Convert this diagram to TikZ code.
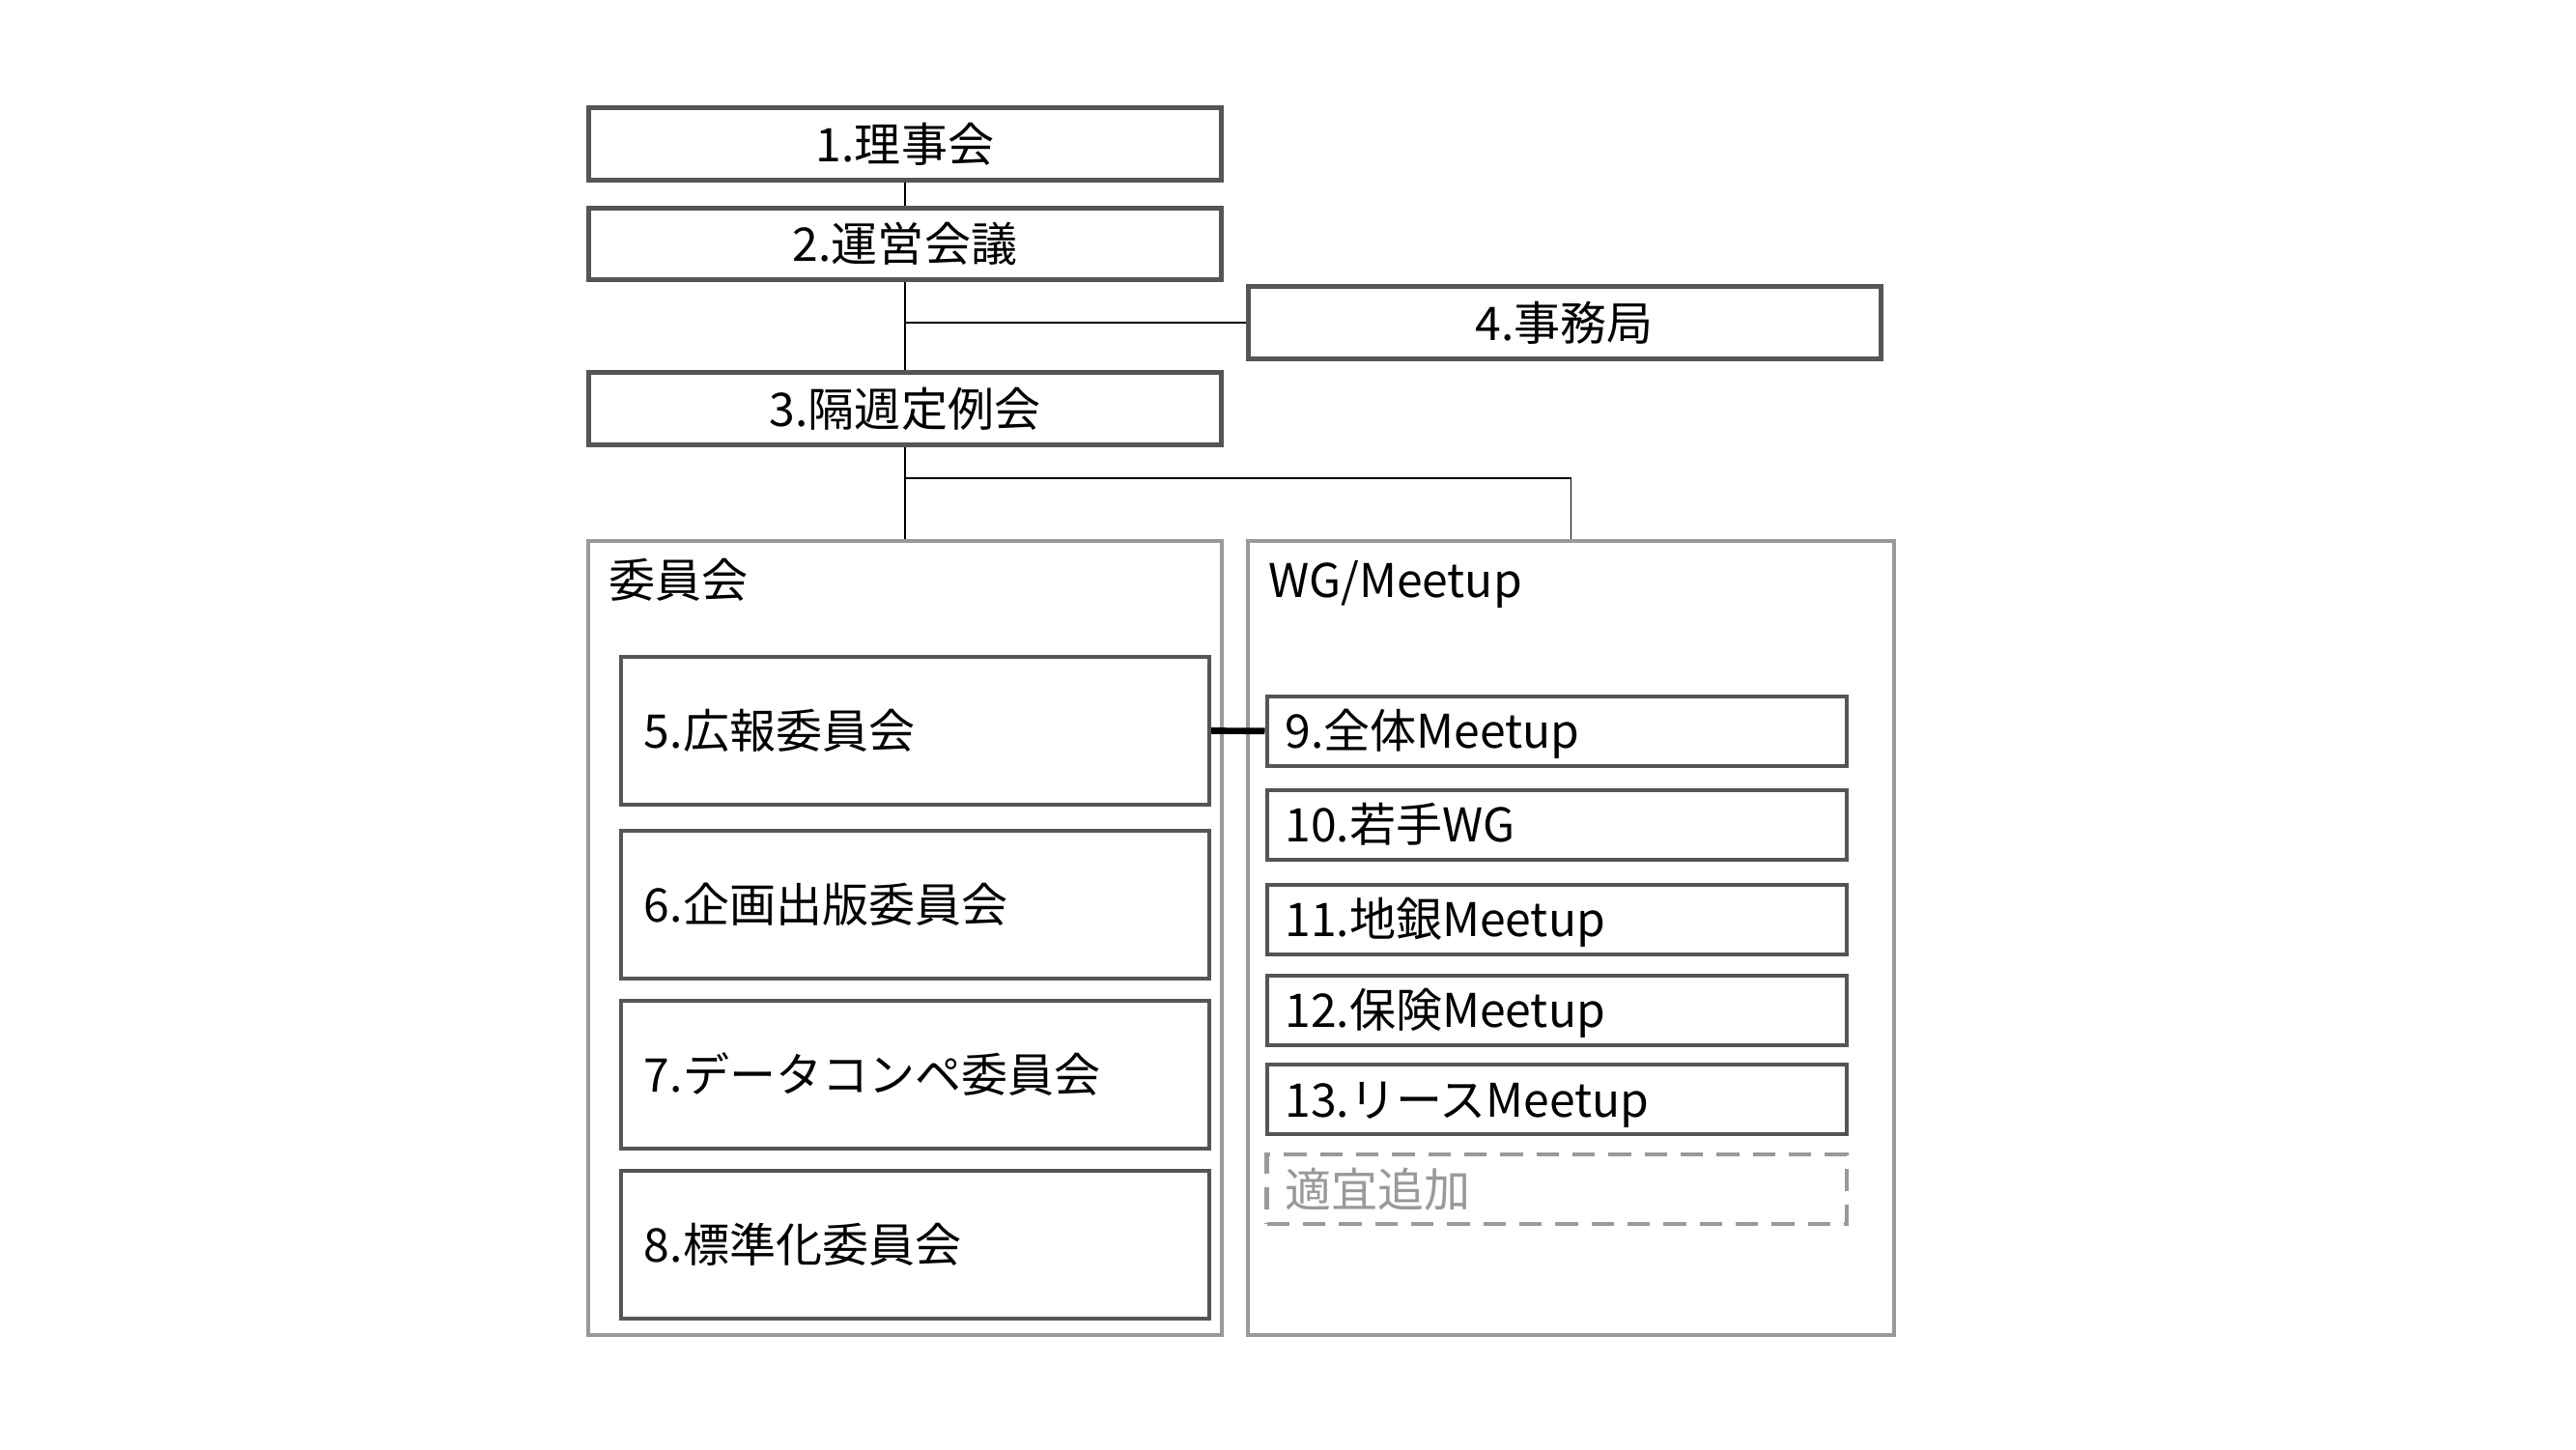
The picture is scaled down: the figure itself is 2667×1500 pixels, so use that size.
\documentclass[tikz,border=0pt]{standalone}
\usepackage{fontspec}
\setmainfont{Noto Sans CJK JP}
\definecolor{boxgray}{RGB}{85,85,85}
\definecolor{framegray}{RGB}{153,153,153}

\begin{document}
\begin{tikzpicture}[x=0.03cm, y=-0.03cm,
  font=\fontsize{41}{49}\selectfont,
  every node/.style={text height=36pt, text depth=5pt},
  topbox/.style={draw=boxgray, line width=0.15cm, minimum width=19.62cm, minimum height=2.24cm, inner sep=0pt},
  group/.style={draw=framegray, line width=0.12cm, minimum height=24.645cm, inner sep=0pt},
  cmtbox/.style={draw=boxgray, line width=0.12cm, minimum height=4.59cm, inner xsep=0.72cm, text width=16.83cm, align=left},
  wgbox/.style={draw=boxgray, line width=0.12cm, minimum height=2.16cm, inner xsep=0.57cm, text width=16.875cm, align=left},
  link/.style={line width=0.045cm}
]
\useasboundingbox (0,0) rectangle (2667,1500);
\node[topbox] (rijikai) at (937,149) {1.理事会};
\node[topbox] (unei) at (937,252.5) {2.運営会議};
\node[topbox] (teirei) at (937,423) {3.隔週定例会};
\node[topbox, minimum width=19.65cm] (jimukyoku) at (1619.5,334) {4.事務局};
\node[group, minimum width=19.68cm] (iinkai) at (937,970.75) {};
\node[group, minimum width=20.07cm] (wg) at (1626.5,970.75) {};
\node[anchor=west, inner sep=0pt] (iinkaititle) at (630,600) {委員会};
\node[anchor=west, inner sep=0pt] (wgtitle) at (1313,600) {WG/Meetup};
\node[cmtbox] (kouhou) at (947.5,756.5) {5.広報委員会};
\node[cmtbox] (kikaku) at (947.5,936.75) {6.企画出版委員会};
\node[cmtbox] (datacomp) at (947.5,1112) {7.データコンペ委員会};
\node[cmtbox] (hyoujun) at (947.5,1288) {8.標準化委員会};
\node[wgbox] (zentai) at (1611.75,756.75) {9.全体Meetup};
\node[wgbox] (wakate) at (1611.75,853.75) {10.若手WG};
\node[wgbox] (chigin) at (1611.75,951.75) {11.地銀Meetup};
\node[wgbox] (hoken) at (1611.75,1045.75) {12.保険Meetup};
\node[wgbox] (lease) at (1611.75,1138) {13.リースMeetup};
\node[wgbox, draw=framegray, line width=0.13cm, dash pattern=on 0.7cm off 0.42cm, text=framegray] (tekigi) at (1611.75,1231) {適宜追加};
\coordinate (split) at (937,495);
\draw[link] (rijikai.south) -- (unei.north);
\draw[link] (unei.south) -- (teirei.north);
\draw[link] (jimukyoku.west) -- (jimukyoku.west -| unei.south);
\draw[link] (teirei.south) -- (iinkai.north);
\draw[link] (split) -| (wg.north);
\draw[line width=0.2cm] (kouhou.east) -- (zentai.west);
\end{tikzpicture}
\end{document}
